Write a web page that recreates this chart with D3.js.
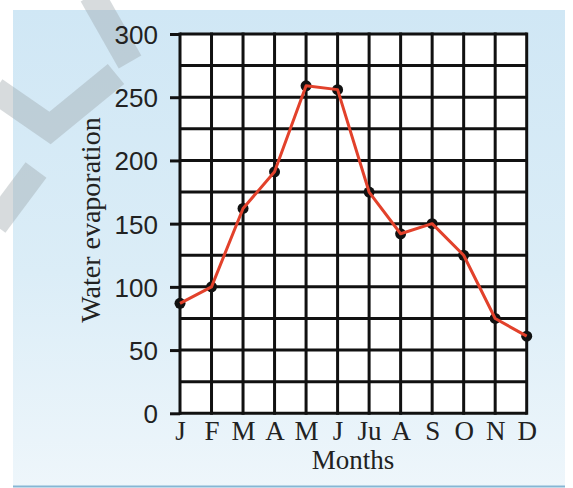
<!DOCTYPE html>
<html><head><meta charset="utf-8">
<script src="https://cdn.jsdelivr.net/npm/d3@7"></script>
<style>html,body{margin:0;padding:0;background:#fff;}svg{display:block;}</style>
</head><body>
<svg id="c" width="573" height="488"></svg>
<script>
const months = ["J","F","M","A","M","J","Ju","A","S","O","N","D"];
const evaporation = [87, 100, 162, 191, 259, 256, 175, 142, 150, 125, 75, 61];
const yTicks = [0, 50, 100, 150, 200, 250, 300];
const yGrid = [0,25,50,75,100,125,150,175,200,225,250,275,300];
const xTitle = "Months";
const yTitle = "Water evaporation";

const svg = d3.select("#c");
const defs = svg.append("defs");
const g1 = defs.append("linearGradient").attr("id","bg").attr("x1",0).attr("y1",0).attr("x2",0).attr("y2",1);
g1.append("stop").attr("offset","0").attr("stop-color","#d0e7f5");
g1.append("stop").attr("offset","0.55").attr("stop-color","#dbedf7");
g1.append("stop").attr("offset","1").attr("stop-color","#eef6fb");

// panel
svg.append("rect").attr("x",13).attr("y",10).attr("width",552).attr("height",477).attr("fill","url(#bg)");
svg.append("line").attr("x1",13).attr("x2",565).attr("y1",486.5).attr("y2",486.5).attr("stroke","#86b6d4").attr("stroke-width",2);

// watermark
const wm = svg.append("g").attr("stroke","#9aa4aa").attr("stroke-opacity",0.4).attr("stroke-width",26).attr("fill","none");
wm.append("path").attr("d","M92,-5 L130,62");
wm.append("path").attr("d","M-5,90 L50,128 L116,74");
wm.append("path").attr("d","M-5,225 L36,170");

const L = 180, R = 526.7, T = 34, B = 413.3;
const x = d3.scalePoint().domain(d3.range(months.length)).range([L, R]);
const y = d3.scaleLinear().domain([0, 300]).range([B, T]);

// plot area white
svg.append("rect").attr("x",L).attr("y",T).attr("width",R-L).attr("height",B-T).attr("fill","#fff");

const grid = svg.append("g").attr("stroke","#111").attr("stroke-width",3);
grid.selectAll("line.h").data(yGrid).join("line")
  .attr("x1",L).attr("x2",R).attr("y1",d=>y(d)).attr("y2",d=>y(d));
grid.selectAll("line.v").data(d3.range(months.length)).join("line")
  .attr("x1",d=>x(d)).attr("x2",d=>x(d)).attr("y1",T-1.5).attr("y2",B+1.5);

// y axis
const yAxis = d3.axisLeft(y).tickValues(yTicks).tickSize(10).tickPadding(12);
const ya = svg.append("g").attr("transform",`translate(${L},0)`).call(yAxis);
ya.select(".domain").remove();
ya.selectAll(".tick line").attr("stroke","#111").attr("stroke-width",3);
ya.selectAll(".tick text").attr("font-family","'Liberation Sans', Arial, sans-serif").attr("font-size",26).attr("fill","#222").attr("dy","0.36em");

// x axis
const xAxis = d3.axisBottom(x).tickFormat(i=>months[i]).tickSize(0).tickPadding(0);
const xa = svg.append("g").attr("transform",`translate(0,${B})`).call(xAxis);
xa.select(".domain").remove();
xa.selectAll(".tick text").attr("font-family","'Liberation Serif', 'Times New Roman', serif").attr("font-size",27).attr("fill","#222").attr("dy",null).attr("y",27);

// titles
svg.append("text").attr("x",353).attr("y",469).attr("text-anchor","middle")
  .attr("font-family","'Liberation Serif', 'Times New Roman', serif").attr("font-size",27).attr("fill","#222").text(xTitle);
svg.append("text").attr("transform","translate(100,220) rotate(-90)").attr("text-anchor","middle")
  .attr("font-family","'Liberation Serif', 'Times New Roman', serif").attr("font-size",28).attr("fill","#222").text(yTitle);

// dots
svg.append("g").selectAll("circle").data(evaporation).join("circle")
  .attr("cx",(d,i)=>x(i)).attr("cy",d=>y(d)).attr("r",5.5).attr("fill","#111");

// line
const line = d3.line().x((d,i)=>x(i)).y(d=>y(d));
svg.append("path").datum(evaporation).attr("d",line).attr("fill","none")
  .attr("stroke","#e2412b").attr("stroke-width",3).attr("stroke-linejoin","round");
</script>
</body></html>
